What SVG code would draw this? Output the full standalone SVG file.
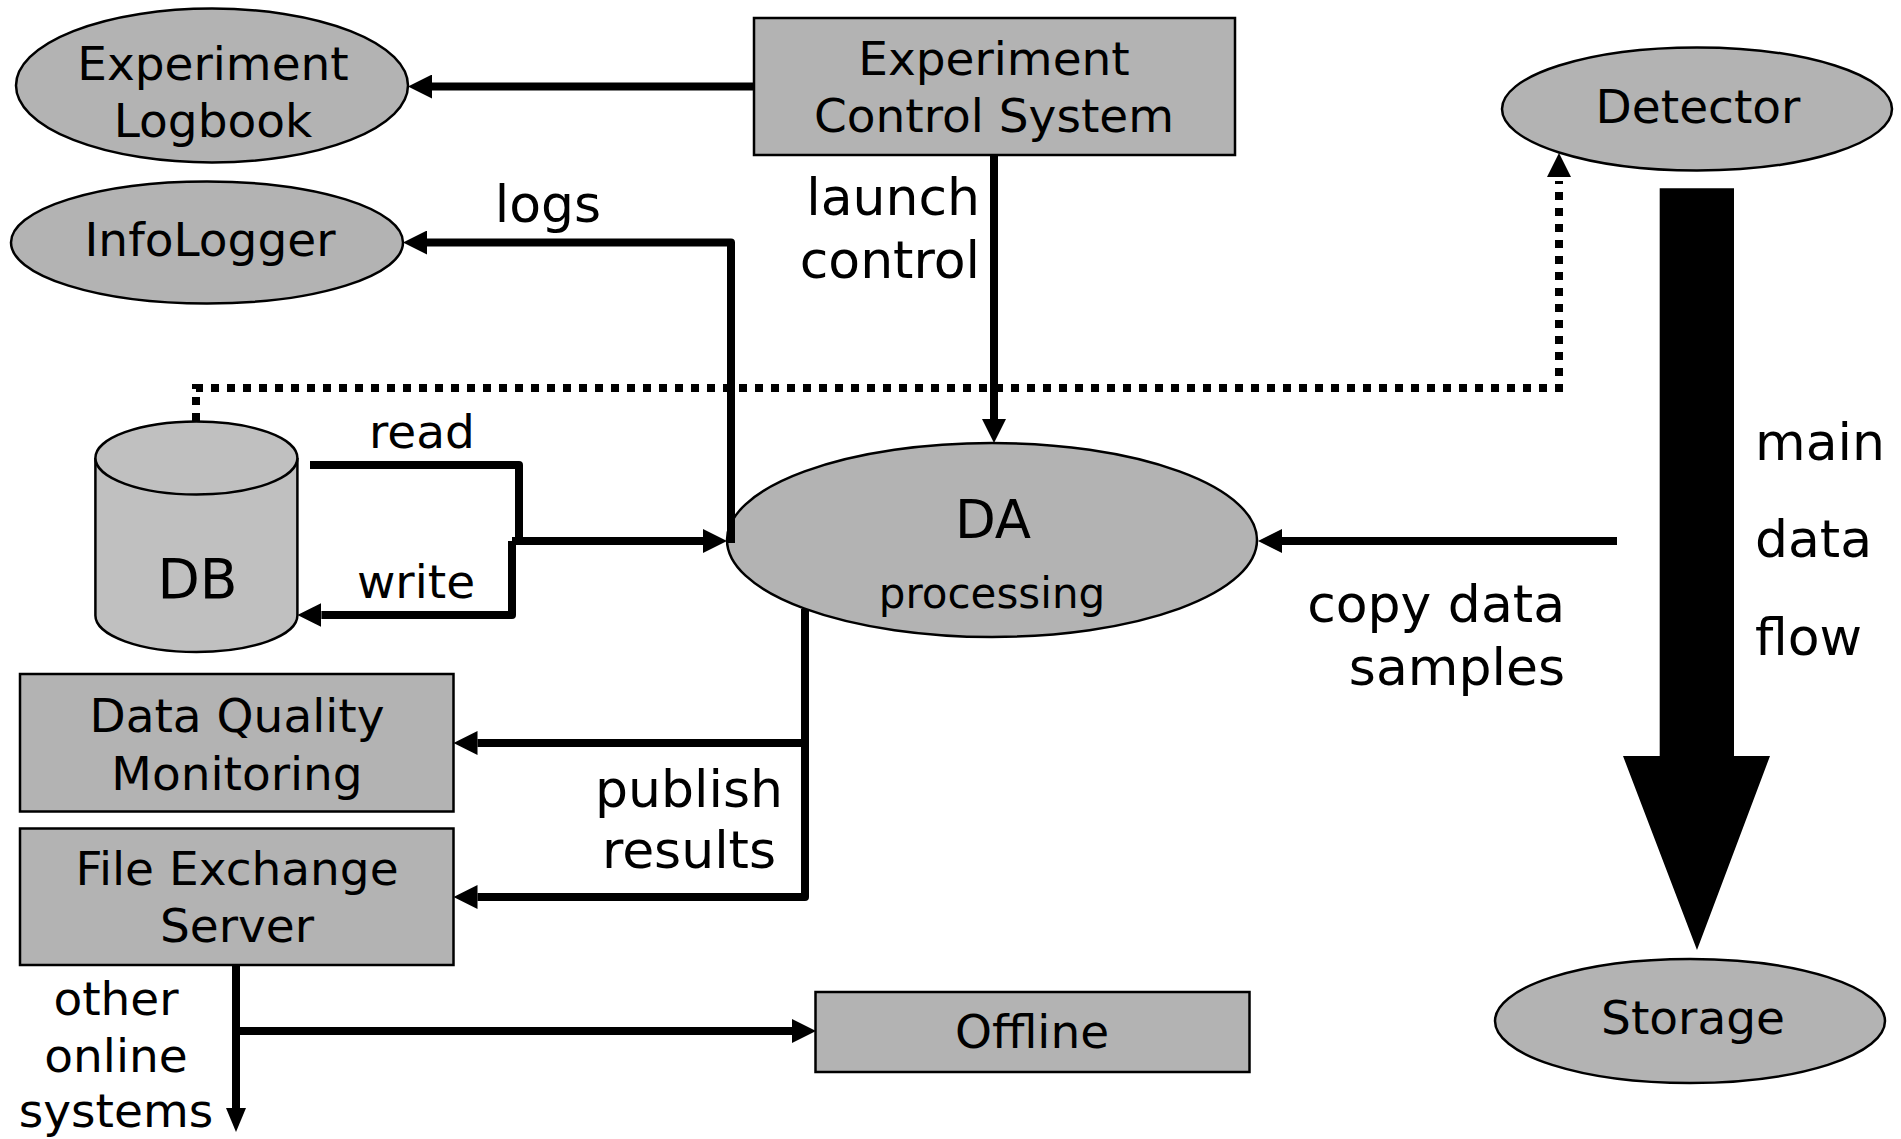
<svg xmlns="http://www.w3.org/2000/svg" width="1901" height="1139" viewBox="0 0 1901 1139">
<style>
text { font-family: "DejaVu Sans", Verdana, sans-serif; fill: #000; }
.n { font-size: 47px; text-anchor: middle; }
.lb { font-size: 52px; }
.node { fill: #b3b3b3; stroke: #000; stroke-width: 2.5; }
.db { fill: #c0c0c0; stroke: #000; stroke-width: 2.5; }
.c { fill: none; stroke: #000; stroke-width: 8; stroke-linejoin: round; }
.dot { fill: none; stroke: #000; stroke-width: 8; stroke-dasharray: 8 8; }
</style>
<defs>
<marker id="ah" markerUnits="userSpaceOnUse" viewBox="0 0 24 24" refX="0" refY="12" markerWidth="24" markerHeight="24" orient="auto">
<path d="M0,0 L24,12 L0,24 Z" fill="#000"/>
</marker>
<marker id="ahs" markerUnits="userSpaceOnUse" viewBox="0 0 24 20" refX="0" refY="10" markerWidth="24" markerHeight="20" orient="auto">
<path d="M0,0 L24,10 L0,20 Z" fill="#000"/>
</marker>
</defs>
<rect width="1901" height="1139" fill="#fff"/>

<g id="logbook">
<ellipse class="node" cx="212" cy="85.5" rx="196" ry="77"/>
<text class="n" x="213" y="80">Experiment</text>
<text class="n" x="213" y="137">Logbook</text>
</g>
<g id="infologger">
<ellipse class="node" cx="207" cy="242.5" rx="196" ry="61"/>
<text class="n" x="210" y="256">InfoLogger</text>
</g>
<g id="ecs">
<rect class="node" x="754" y="18" width="481" height="137"/>
<text class="n" x="994" y="75">Experiment</text>
<text class="n" x="994" y="132">Control System</text>
</g>
<g id="detector">
<ellipse class="node" cx="1697" cy="109" rx="195" ry="61.5"/>
<text class="n" x="1698" y="123">Detector</text>
</g>
<g id="db">
<path class="db" d="M95.4,458 A101,36.5 0 0 1 297.4,458 L297.4,615.5 A101,36.5 0 0 1 95.4,615.5 Z"/>
<path class="db" fill="none" d="M95.4,458 A101,36.5 0 0 0 297.4,458"/>
<text x="197.5" y="598" style="font-size:55px;text-anchor:middle">DB</text>
</g>
<g id="da">
<ellipse class="node" cx="992" cy="540" rx="265" ry="97"/>
<text x="993" y="538" style="font-size:53px;text-anchor:middle">DA</text>
<text x="992" y="608" style="font-size:42px;text-anchor:middle">processing</text>
</g>
<g id="dqm">
<rect class="node" x="20" y="674" width="433.5" height="137.5"/>
<text class="n" x="237" y="732">Data Quality</text>
<text class="n" x="237" y="790">Monitoring</text>
</g>
<g id="fes">
<rect class="node" x="20" y="828.5" width="433.5" height="136.5"/>
<text class="n" x="237" y="885">File Exchange</text>
<text class="n" x="237" y="942">Server</text>
</g>
<g id="offline">
<rect class="node" x="815.5" y="992" width="434" height="80"/>
<text class="n" x="1032" y="1048">Offline</text>
</g>
<g id="storage">
<ellipse class="node" cx="1690" cy="1021" rx="195" ry="62"/>
<text class="n" x="1693" y="1034">Storage</text>
</g>

<g id="connectors">
<path class="dot" d="M196,421 V388 H1559 V181"/>
<path d="M1547,177 L1559,153 L1571,177 Z" fill="#000"/>
<path class="c" d="M754,86.5 H432" marker-end="url(#ah)"/>
<path class="c" d="M731,543 V242.5 H427" marker-end="url(#ah)"/>
<path class="c" d="M994,155 V419" marker-end="url(#ah)"/>
<path class="c" d="M310,465 H519 V541"/>
<path class="c" d="M512,541 H703" marker-end="url(#ah)"/>
<path class="c" d="M512,541 V615 H321.4" marker-end="url(#ah)"/>
<path class="c" d="M1617,541 H1282" marker-end="url(#ah)"/>
<path class="c" d="M805,609 V897 H477.5" marker-end="url(#ah)"/>
<path class="c" d="M805,743 H477.5" marker-end="url(#ah)"/>
<path class="c" d="M236,965 V1108" marker-end="url(#ahs)"/>
<path class="c" d="M236,1031 H792" marker-end="url(#ah)"/>
<polygon points="1659.7,188.3 1734,188.3 1734,756 1770,756 1697,950 1623,756 1659.7,756" fill="#000"/>
</g>

<g id="labels">
<text class="lb" x="548" y="222" text-anchor="middle">logs</text>
<text class="lb" x="980" y="215" text-anchor="end">launch</text>
<text class="lb" x="980" y="278" text-anchor="end">control</text>
<text class="n" x="422" y="448">read</text>
<text class="n" x="416" y="598">write</text>
<text class="lb" x="1565" y="622" text-anchor="end">copy data</text>
<text class="lb" x="1565" y="685" text-anchor="end">samples</text>
<text class="lb" x="1755" y="460">main</text>
<text class="lb" x="1755" y="557">data</text>
<text class="lb" x="1755" y="655">flow</text>
<text class="lb" x="689" y="807" text-anchor="middle">publish</text>
<text class="lb" x="689" y="868" text-anchor="middle">results</text>
<text class="n" x="116" y="1015">other</text>
<text class="n" x="116" y="1072">online</text>
<text class="n" x="116" y="1127">systems</text>
</g>
</svg>
